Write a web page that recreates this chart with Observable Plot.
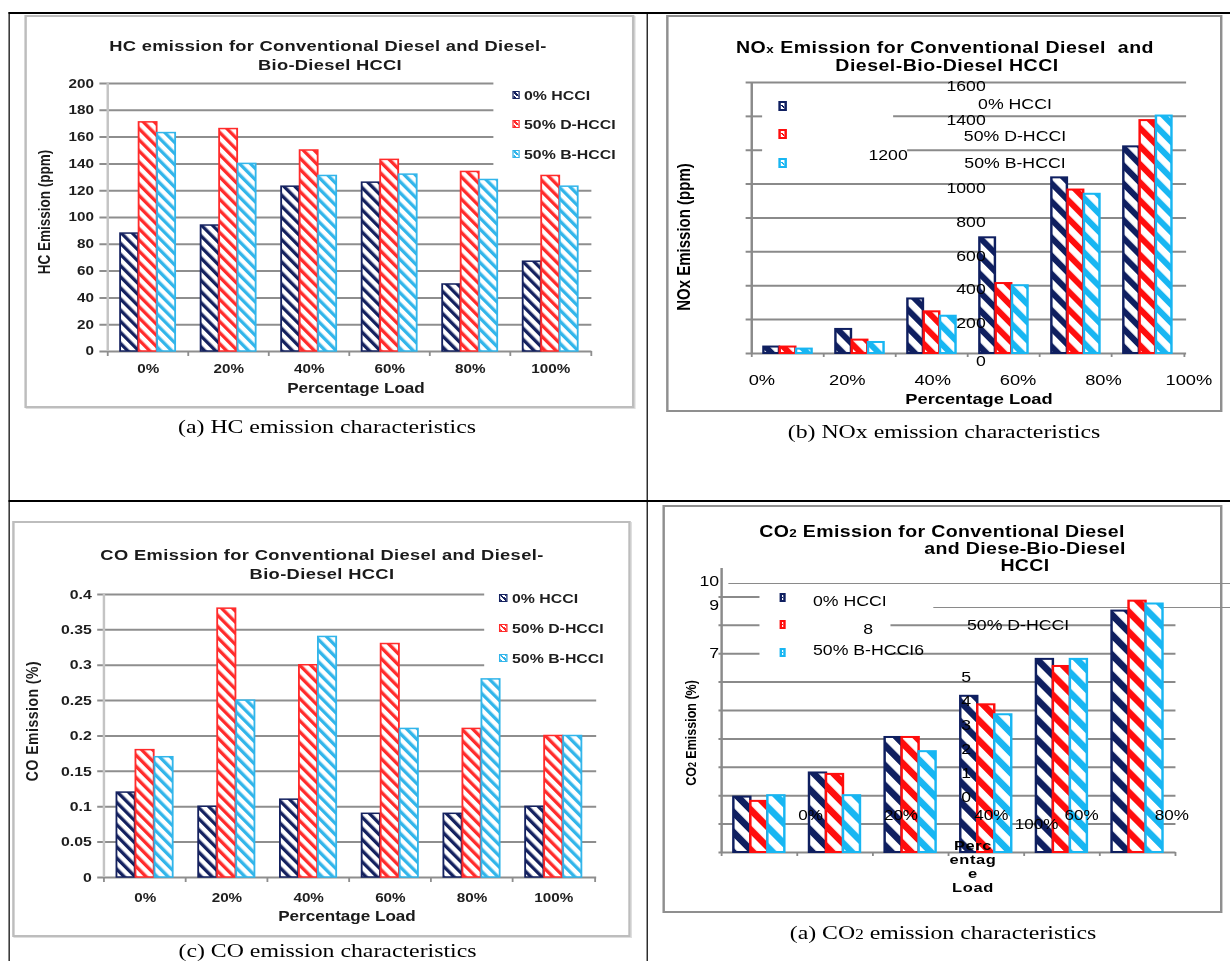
<!DOCTYPE html>
<html>
<head>
<meta charset="utf-8">
<script src="https://cdn.jsdelivr.net/npm/d3@7"></script>
<script src="https://cdn.jsdelivr.net/npm/@observablehq/plot@0.6"></script>
<style>
  html, body { margin: 0; padding: 0; background: #fff; }
  #page { position: relative; width: 1230px; height: 961px; overflow: hidden; background: #fff; }
  #stage { position: absolute; left: 0; top: 0; height: 961px; transform-origin: 0 0; }
</style>
</head>
<body>
<div id="page"><div id="stage"></div></div>
<script>
// ---------------- DATA ----------------
const loads = ["0%", "20%", "40%", "60%", "80%", "100%"];
const series = ["0% HCCI", "50% D-HCCI", "50% B-HCCI"];

const hc0 = [88, 94, 123, 126, 50, 67];
const hcD = [171, 166, 150, 143, 134, 131];
const hcB = [163, 140, 131, 132, 128, 123];
const hcTicks = [0, 20, 40, 60, 80, 100, 120, 140, 160, 180, 200];

const nox0 = [38, 142, 322, 683, 1037, 1220];
const noxD = [38, 79, 246, 413, 965, 1375];
const noxB = [26, 65, 220, 400, 940, 1402];
const noxTicks = [0, 200, 400, 600, 800, 1000, 1200, 1400, 1600];

const co0 = [0.12, 0.10, 0.11, 0.09, 0.09, 0.10];
const coD = [0.18, 0.38, 0.30, 0.33, 0.21, 0.20];
const coB = [0.17, 0.25, 0.34, 0.21, 0.28, 0.20];
const coTicks = [0, 0.05, 0.1, 0.15, 0.2, 0.25, 0.3, 0.35, 0.4];

const co2_0 = [1.95, 2.8, 4.05, 5.5, 6.8, 8.5];
const co2_D = [1.8, 2.75, 4.05, 5.2, 6.55, 8.85];
const co2_B = [2.0, 2.0, 3.55, 4.85, 6.8, 8.75];
const co2Grid = [0, 1, 2, 3, 4, 5, 6, 7, 8, 9];
const co2TickText = ["10", "9", "8", "7", "5", "4", "3", "2", "1", "0"];

// ---------------- SETUP ----------------
const S = 1.22;                 // horizontal stretch of the whole figure
const ux = v => v / S;
const stage = document.getElementById("stage");
stage.style.width = ux(1230) + "px";
stage.style.transform = `scaleX(${S})`;

const SANS = "'Liberation Sans', Arial, Helvetica, sans-serif";
const SERIF = "'Liberation Serif', 'Times New Roman', Times, serif";

const NAVY = "#14215f", RED = "#ff2b2b", CYAN = "#32b5ea";
const NAVY2 = "#0f1f60", RED2 = "#ff0d0d", CYAN2 = "#18b6f2";
const GRID_A = "#8e8e8e", AXIS_A = "#c4c4c4", GRID_B = "#8a8a8a";
const intFmt = d => String(d);

const NS = "http://www.w3.org/2000/svg";
const defsSvg = document.createElementNS(NS, "svg");
defsSvg.setAttribute("width", 0); defsSvg.setAttribute("height", 0);
defsSvg.style.position = "absolute";
const defs = document.createElementNS(NS, "defs");
defsSvg.appendChild(defs);
document.getElementById("page").appendChild(defsSvg);
function pattern(id, color, period, stripe) {
  const p = document.createElementNS(NS, "pattern");
  p.setAttribute("id", id);
  p.setAttribute("patternUnits", "userSpaceOnUse");
  p.setAttribute("width", period); p.setAttribute("height", period);
  p.setAttribute("patternTransform", "rotate(-39)");
  const bg = document.createElementNS(NS, "rect");
  bg.setAttribute("width", period); bg.setAttribute("height", period); bg.setAttribute("fill", "#fff");
  const st = document.createElementNS(NS, "rect");
  st.setAttribute("width", stripe); st.setAttribute("height", period); st.setAttribute("fill", color);
  p.appendChild(bg); p.appendChild(st); defs.appendChild(p);
}
pattern("pa0", NAVY, 7, 3); pattern("pa1", RED, 7, 3); pattern("pa2", CYAN, 7, 3);
pattern("pb0", NAVY2, 11.4, 5.4); pattern("pb1", RED2, 11.4, 5.4); pattern("pb2", CYAN2, 11.4, 5.4);
pattern("pd0", NAVY2, 12.6, 6); pattern("pd1", RED2, 12.6, 6); pattern("pd2", CYAN2, 12.6, 6);

function rect(l, t, w, h, css) {
  const d = document.createElement("div");
  Object.assign(d.style, {position: "absolute", left: ux(l) + "px", top: t + "px",
    width: ux(w) + "px", height: h + "px", boxSizing: "border-box"}, css || {});
  stage.appendChild(d);
  return d;
}
function label(parts, x, y, o = {}) {
  const d = document.createElement("div");
  Object.assign(d.style, {position: "absolute", whiteSpace: "pre", lineHeight: "1",
    left: ux(x) + "px", top: y + "px", fontFamily: o.family || SANS, fontSize: o.size + "px",
    fontWeight: o.weight || "normal", color: o.color || "#000",
    letterSpacing: (o.ls || 0) + "px"});
  const tx = o.align === "left" ? "0" : o.align === "right" ? "-100%" : "-50%";
  d.style.transform = `translate(${tx}, -50%)` + (o.rotate ? " rotate(-90deg)" : "");
  (Array.isArray(parts) ? parts : [parts]).forEach(p => {
    const s = document.createElement("span");
    if (typeof p === "string") s.textContent = p;
    else { s.textContent = p.t; s.style.fontSize = p.size + "px"; }
    d.appendChild(s);
  });
  stage.appendChild(d);
  return d;
}
function mount(svg, P) {
  const d = document.createElement("div");
  Object.assign(d.style, {position: "absolute", left: ux(P.L) + "px", top: P.T + "px",
    width: ux(P.R - P.L) + "px", height: (P.B - P.T) + "px"});
  d.appendChild(svg);
  stage.appendChild(d);
}
function toRows(a0, aD, aB) {
  return loads.flatMap((l, i) => [a0, aD, aB].map((arr, j) => ({load: l, series: series[j], value: arr[i]})));
}
function bars(rows, stepPx, barW, colors, pats, sw) {
  const pad = (stepPx - 3 * barW) / 2;
  return series.map((s, j) => Plot.barY(rows.filter(r => r.series === s), {
    x: "load", y: "value", fill: `url(#${pats[j]})`, stroke: colors[j], strokeWidth: sw,
    insetLeft: ux(pad + j * barW), insetRight: ux(stepPx - pad - (j + 1) * barW)
  }));
}
function dims(P) {
  return {
    width: ux(P.R - P.L), height: P.B - P.T,
    marginLeft: ux(P.x0 - P.L), marginRight: ux(P.R - P.x1),
    marginTop: P.yTop - P.T, marginBottom: P.B - P.yBase
  };
}
// group-boundary ticks under the baseline
function boundaryTicks(step, size, stroke) {
  return [
    Plot.axisX({tickSize: size, tickFormat: () => "", label: null, dx: -ux(step) / 2, stroke, strokeWidth: 1.5}),
    Plot.axisX({ticks: [loads[5]], tickSize: size, tickFormat: () => "", label: null, dx: ux(step) / 2, stroke, strokeWidth: 1.5})
  ];
}
const plotStyle = {background: "transparent", overflow: "visible", fontFamily: SANS, color: "#000"};
function swatchHatch(cx, cy, w, h, color) {
  rect(cx - w / 2, cy - h / 2, w, h, {border: `1px solid ${color}`,
    background: `repeating-linear-gradient(45deg, ${color} 0 1.6px, #fff 1.6px 3.4px)`});
}
function swatchHollow(cx, cy, w, h, color) {
  rect(cx - w / 2, cy - h / 2, w, h, {border: `2.2px solid ${color}`,
    background: `linear-gradient(45deg, #fff 0 35%, ${color} 35% 55%, #fff 55% 100%)`});
}

// ---------------- TABLE & FRAMES ----------------
rect(8, 12, 1240, 2, {background: "#000"});
rect(8, 12, 2, 960, {background: "#000"});
rect(646, 12, 2, 960, {background: "#000"});
rect(8, 500, 1240, 2, {background: "#000"});

rect(25, 15, 609, 393, {border: "2px solid #bdbdbd", boxShadow: "1px 1px 0 #dedede"});
rect(666, 15, 556, 397, {border: "2px solid #8f8f8f"});
rect(12, 521, 619, 416, {border: "2px solid #bdbdbd", boxShadow: "1px 1px 0 #dedede"});
rect(663, 505, 560, 408, {border: "2px solid #8f8f8f"});

// ---------------- (a) HC ----------------
const A = {L: 25, T: 15, R: 634, B: 408, x0: 106, x1: 592, yTop: 83, yBase: 351};
const stepA = (A.x1 - A.x0) / 6;
mount(Plot.plot({
  ...dims(A),
  x: {type: "band", domain: loads, padding: 0, label: null},
  y: {domain: [0, 200], label: null},
  style: plotStyle,
  marks: [
    Plot.ruleY(hcTicks.filter(v => v < 140), {stroke: GRID_A, strokeWidth: 2, insetLeft: -ux(6)}),
    Plot.ruleY(hcTicks.filter(v => v >= 140), {stroke: GRID_A, strokeWidth: 2, insetLeft: -ux(6), insetRight: ux(A.x1 - 494)}),
    Plot.ruleX([loads[0]], {dx: -ux(stepA) / 2, y1: 0, y2: 200, stroke: AXIS_A, strokeWidth: 2}),
    ...bars(toRows(hc0, hcD, hcB), stepA, 18.5, [NAVY, RED, CYAN], ["pa0", "pa1", "pa2"], 1.5),
    ...boundaryTicks(stepA, 5, GRID_A),
    Plot.axisX({tickSize: 0, tickPadding: 12.5, label: null, fontSize: 12.5, fontWeight: "bold", fill: "#1e1e1e"}),
    Plot.axisY({ticks: hcTicks, tickFormat: intFmt, tickSize: 0, tickPadding: ux(12), label: null, fontSize: 12.5, fontWeight: "bold", fill: "#1e1e1e"})
  ]
}), A);
label("HC emission for Conventional Diesel and Diesel-", 328, 45, {size: 15, weight: "bold", ls: 0.25, color: "#1a1a1a"});
label("Bio-Diesel HCCI", 330, 64, {size: 15, weight: "bold", ls: 0.25, color: "#1a1a1a"});
label("Percentage Load", 356, 388, {size: 14, weight: "bold", color: "#1a1a1a"});
label("HC Emission (ppm)", 45.5, 212, {size: 13.5, weight: "bold", rotate: true, color: "#1a1a1a"});
[95, 124, 154].forEach((y, j) => {
  swatchHatch(516, y, 8, 8, [NAVY, RED, CYAN][j]);
  label(series[j], 524, y, {size: 13, weight: "bold", align: "left", color: "#1e1e1e"});
});
label("(a) HC emission characteristics", 327, 427, {size: 19.5, family: SERIF});

// ---------------- (b) NOx ----------------
const Bq = {L: 666, T: 15, R: 1222, B: 412, x0: 749.5, x1: 1186, yTop: 82, yBase: 353};
const stepB = (Bq.x1 - Bq.x0) / 6;
mount(Plot.plot({
  ...dims(Bq),
  x: {type: "band", domain: loads, padding: 0, label: null},
  y: {domain: [0, 1600], label: null},
  style: plotStyle,
  marks: [
    Plot.ruleY(noxTicks.filter(v => v !== 1200 && v !== 1400), {stroke: GRID_B, strokeWidth: 2, insetLeft: -ux(4)}),
    Plot.ruleY([1200, 1400], {stroke: GRID_B, strokeWidth: 2, insetLeft: -ux(4), insetRight: ux(Bq.x1 - 762)}),
    Plot.ruleY([1400], {stroke: GRID_B, strokeWidth: 2, insetLeft: ux(893 - Bq.x0)}),
    Plot.ruleY([1200], {stroke: GRID_B, strokeWidth: 2, insetLeft: ux(907 - Bq.x0)}),
    Plot.ruleX([loads[0]], {dx: -ux(stepB) / 2, y1: 0, y2: 1600, stroke: GRID_B, strokeWidth: 2}),
    ...bars(toRows(nox0, noxD, noxB), stepB, 16.3, [NAVY2, RED2, CYAN2], ["pb0", "pb1", "pb2"], 2),
    ...boundaryTicks(stepB, 4, GRID_B),
    Plot.axisY({ticks: noxTicks.filter(v => v !== 1200 && v !== 0), tickFormat: intFmt, tickSize: 0, tickPadding: 0, label: null, dx: ux(985 - Bq.x0), dy: 4, fontSize: 14.5}),
    Plot.axisY({ticks: [0], tickFormat: intFmt, tickSize: 0, tickPadding: 0, label: null, dx: ux(985 - Bq.x0), dy: 8, fontSize: 14.5}),
    Plot.axisY({ticks: [1200], tickFormat: intFmt, tickSize: 0, tickPadding: 0, label: null, dx: ux(907 - Bq.x0), dy: 5, fontSize: 14.5})
  ]
}), Bq);
// displaced category labels of (b)
mount(Plot.plot({
  ...dims(Bq),
  x: {type: "band", domain: loads, padding: 0, label: null, range: [ux(761 - 42.8 - Bq.L), ux(1189 + 42.8 - Bq.L)]},
  style: plotStyle,
  marks: [Plot.axisX({tickSize: 0, tickPadding: 379 - 5.4 - Bq.yBase, label: null, fontSize: 15})]
}), Bq);
label(["NO", {t: "x", size: 11}, " Emission for Conventional Diesel  and"], 945, 48, {size: 16, weight: "bold", ls: 0.4});
label("Diesel-Bio-Diesel HCCI", 947, 66, {size: 16, weight: "bold", ls: 0.4});
label("Percentage Load", 979, 398, {size: 15, weight: "bold"});
label("NOx Emission (ppm)", 683, 237, {size: 15, weight: "bold", rotate: true});
[106, 134, 163].forEach((y, j) => swatchHollow(782.5, y, 8, 10, [NAVY2, RED2, CYAN2][j]));
label(series[0], 1015, 104, {size: 14.5});
label(series[1], 1015, 136, {size: 14.5});
label(series[2], 1015, 163, {size: 14.5});
label("(b) NOx emission characteristics", 944, 432, {size: 19.5, family: SERIF});

// ---------------- (c) CO ----------------
const C = {L: 12, T: 521, R: 631, B: 937, x0: 101, x1: 596, yTop: 594, yBase: 877};
const stepC = (C.x1 - C.x0) / 6;
mount(Plot.plot({
  ...dims(C),
  x: {type: "band", domain: loads, padding: 0, label: null},
  y: {domain: [0, 0.4], label: null},
  style: plotStyle,
  marks: [
    Plot.ruleY(coTicks.filter(v => v < 0.3), {stroke: GRID_A, strokeWidth: 2, insetLeft: -ux(4)}),
    Plot.ruleY(coTicks.filter(v => v >= 0.3), {stroke: GRID_A, strokeWidth: 2, insetLeft: -ux(4), insetRight: ux(C.x1 - 484)}),
    Plot.ruleX([loads[0]], {dx: -ux(stepC) / 2, y1: 0, y2: 0.4, stroke: AXIS_A, strokeWidth: 2}),
    ...bars(toRows(co0, coD, coB), stepC, 19, [NAVY, RED, CYAN], ["pa0", "pa1", "pa2"], 1.5),
    ...boundaryTicks(stepC, 5, GRID_A),
    Plot.axisX({tickSize: 0, tickPadding: 15.5, label: null, fontSize: 12.5, fontWeight: "bold", fill: "#1e1e1e"}),
    Plot.axisY({ticks: coTicks, tickFormat: intFmt, tickSize: 0, tickPadding: ux(10), label: null, fontSize: 13, fontWeight: "bold", fill: "#1e1e1e"})
  ]
}), C);
label("CO Emission for Conventional Diesel and Diesel-", 322, 554, {size: 15, weight: "bold", ls: 0.3, color: "#1a1a1a"});
label("Bio-Diesel HCCI", 322, 573, {size: 15, weight: "bold", ls: 0.3, color: "#1a1a1a"});
label("Percentage Load", 347, 916, {size: 14, weight: "bold", color: "#1a1a1a"});
label("CO Emission (%)", 32, 721, {size: 14, weight: "bold", ls: 0.5, rotate: true, color: "#1a1a1a"});
[598, 627.5, 658].forEach((y, j) => {
  swatchHatch(503.5, y, 8, 8, [NAVY, RED, CYAN][j]);
  label(series[j], 512, y, {size: 13, weight: "bold", align: "left", color: "#1e1e1e"});
});
label("(c) CO emission characteristics", 327.5, 950.5, {size: 19.5, family: SERIF});

// ---------------- (d) CO2 ----------------
const D = {L: 663, T: 505, R: 1223, B: 913, x0: 722, x1: 1176, yTop: 852 - 284, yBase: 852};
const stepD = (D.x1 - D.x0) / 6;
// stray leader lines of the original legend (run past the frame)
rect(728, 582.5, 510, 1, {background: "#8a8a8a"});
rect(933, 606.5, 305, 1, {background: "#8a8a8a"});
mount(Plot.plot({
  ...dims(D),
  x: {type: "band", domain: loads, padding: 0, label: null},
  y: {domain: [0, 10], label: null, axis: null},
  style: plotStyle,
  marks: [
    Plot.ruleY(co2Grid.filter(v => v <= 6), {stroke: GRID_B, strokeWidth: 2, insetLeft: -ux(3)}),
    Plot.ruleY(co2Grid.filter(v => v >= 7), {stroke: GRID_B, strokeWidth: 2, insetLeft: -ux(3), insetRight: ux(D.x1 - 760)}),
    Plot.ruleY(co2Grid.filter(v => v === 7 || v === 8), {stroke: GRID_B, strokeWidth: 2, insetLeft: ux(891 - D.x0)}),
    Plot.ruleX([loads[0]], {dx: -ux(stepD) / 2, y1: 0, y2: 10, stroke: GRID_B, strokeWidth: 2}),
    ...bars(toRows(co2_0, co2_D, co2_B), stepD, 17, [NAVY2, RED2, CYAN2], ["pd0", "pd1", "pd2"], 2),
    ...boundaryTicks(stepD, 4, GRID_B)
  ]
}), D);
// displaced tick labels of (d)
const xStepD = 90.75;
mount(Plot.plot({
  ...dims(D),
  x: {type: "band", domain: loads.slice(0, 5), padding: 0, label: null, range: [ux(810 - xStepD / 2 - D.L), ux(1173 + xStepD / 2 - D.L)]},
  y: {type: "point", domain: co2TickText, padding: 0, label: null, range: [578 - D.T, 800 - D.T]},
  style: plotStyle,
  marks: [
    Plot.axisY({ticks: ["10", "9", "7"], tickSize: 0, tickPadding: ux(3), label: null, fontSize: 14.5}),
    Plot.axisY({ticks: ["8"], tickSize: 0, tickPadding: 0, label: null, textAnchor: "middle", dx: ux(868 - D.x0), fontSize: 14.5}),
    Plot.axisY({ticks: ["5", "4", "3", "2", "1", "0"], tickSize: 0, tickPadding: 0, label: null, textAnchor: "middle", dx: ux(966 - D.x0), fontSize: 14.5}),
    Plot.axisX({tickSize: 0, tickPadding: 0, label: null, dy: 815 - 5 - D.yBase, fontSize: 14}),
    Plot.text([loads[5]], {x: () => loads[2], frameAnchor: "bottom", dx: ux(xStepD) / 2, dy: 829 - D.yBase, fontSize: 14})
  ]
}), D);
label(["CO", {t: "2", size: 11}, " Emission for Conventional Diesel"], 942, 532, {size: 16, weight: "bold", ls: 0.3});
label("and Diese-Bio-Diesel", 1025, 549, {size: 16, weight: "bold", ls: 0.3});
label("HCCI", 1025, 566, {size: 16, weight: "bold", ls: 0.3});
["Perc", "entag", "e", "Load"].forEach((t, i) => label(t, 973, 846 + 14 * i, {size: 13.5, weight: "bold", ls: 0.5}));
label(["CO", {t: "2", size: 9}, " Emission (%)"], 692, 732.5, {size: 12.5, weight: "bold", rotate: true});
[597, 624, 652].forEach((y, j) => swatchHollow(782.5, y, 7, 9, [NAVY2, RED2, CYAN2][j]));
label(series[0], 813, 601, {size: 14.5, align: "left"});
label(series[1], 967, 625, {size: 14.5, align: "left"});
label(series[2] + "6", 813, 650, {size: 14.5, align: "left"});
label(["(a) CO", {t: "2", size: 14}, " emission characteristics"], 943, 933, {size: 19.5, family: SERIF});
</script>
</body>
</html>
